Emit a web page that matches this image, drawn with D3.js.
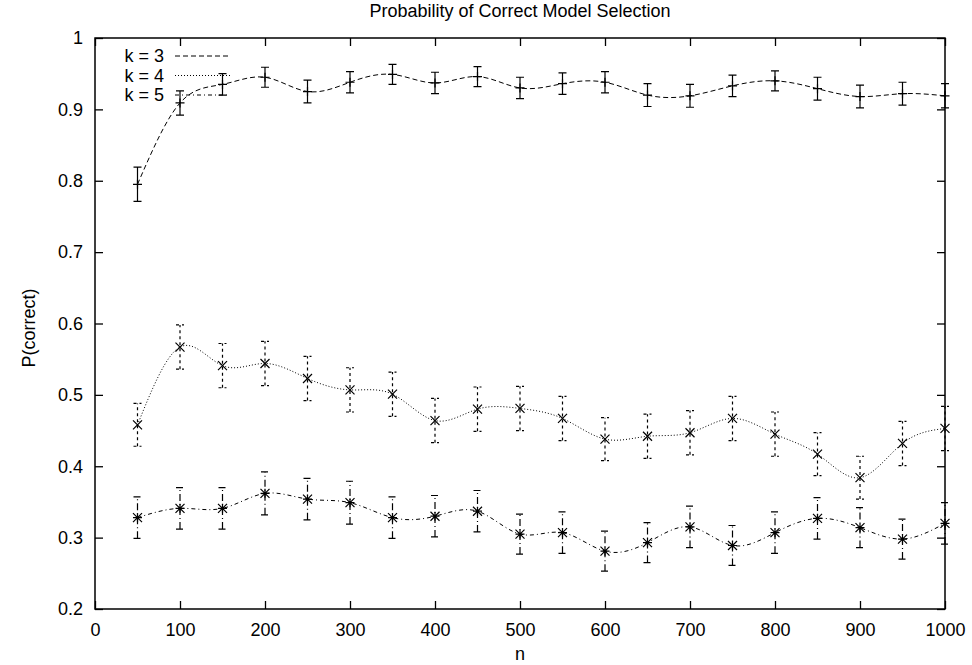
<!DOCTYPE html>
<html>
<head>
<meta charset="utf-8">
<script src="https://cdn.jsdelivr.net/npm/d3@7"></script>
<style>
  body { margin: 0; background: #fff; }
  text { font-family: "Liberation Sans", Arial, sans-serif; fill: #000; }
</style>
</head>
<body>
<div id="chart"></div>
<script>
var width = 972;
var height = 665;
var marginLeft = 95;
var marginTop = 38;
var plotW = 850;
var plotH = 571;

// data
var nValues = [50, 100, 150, 200, 250, 300, 350, 400, 450, 500, 550, 600, 650, 700, 750, 800, 850, 900, 950, 1000];
var k3 = [0.795, 0.909, 0.935, 0.945, 0.925, 0.938, 0.949, 0.937, 0.946, 0.930, 0.936, 0.938, 0.920, 0.919, 0.933, 0.940, 0.929, 0.918, 0.922, 0.919];
var k3err = [0.024, 0.017, 0.015, 0.014, 0.016, 0.015, 0.014, 0.015, 0.014, 0.015, 0.015, 0.015, 0.016, 0.016, 0.015, 0.014, 0.016, 0.016, 0.016, 0.017];
var k4 = [0.458, 0.567, 0.541, 0.544, 0.523, 0.507, 0.501, 0.464, 0.480, 0.481, 0.467, 0.438, 0.442, 0.447, 0.467, 0.445, 0.417, 0.384, 0.432, 0.453];
var k4err = [0.030, 0.031, 0.031, 0.031, 0.031, 0.031, 0.031, 0.031, 0.031, 0.031, 0.031, 0.030, 0.031, 0.031, 0.031, 0.031, 0.030, 0.030, 0.031, 0.031];
var k5 = [0.328, 0.341, 0.341, 0.362, 0.354, 0.349, 0.328, 0.330, 0.337, 0.305, 0.307, 0.281, 0.293, 0.315, 0.289, 0.307, 0.327, 0.314, 0.298, 0.320];
var k5err = [0.029, 0.029, 0.029, 0.030, 0.029, 0.030, 0.029, 0.029, 0.029, 0.028, 0.029, 0.028, 0.028, 0.029, 0.028, 0.029, 0.029, 0.028, 0.028, 0.029];
var seriesNames = ['k = 3', 'k = 4', 'k = 5'];
var xTicks = [0, 100, 200, 300, 400, 500, 600, 700, 800, 900, 1000];
var yTicks = [0.2, 0.3, 0.4, 0.5, 0.6, 0.7, 0.8, 0.9, 1];

var fs = 18;

var svg = d3.select('#chart')
    .append('svg')
    .attr('width', width)
    .attr('height', height);

var g = svg.append('g')
    .attr('transform', 'translate(' + marginLeft + ',' + marginTop + ')');

var x = d3.scaleLinear().domain([0, 1000]).range([0, plotW]);
var y = d3.scaleLinear().domain([0.2, 1]).range([plotH, 0]);

// ticks on all four sides, pointing inward
g.append('g').attr('transform', 'translate(0,' + plotH + ')')
    .call(d3.axisBottom(x).tickValues(xTicks).tickSize(-8).tickPadding(14).tickFormat(d3.format('d')));
g.append('g')
    .call(d3.axisTop(x).tickValues(xTicks).tickSize(-8).tickFormat(''));
g.append('g')
    .call(d3.axisLeft(y).tickValues(yTicks).tickSize(-8).tickPadding(12).tickFormat(function(d){ return d === 1 ? '1' : d3.format('.1f')(d); }));
g.append('g').attr('transform', 'translate(' + plotW + ',0)')
    .call(d3.axisRight(y).tickValues(yTicks).tickSize(-8).tickFormat(''));

g.selectAll('.domain').remove();
g.selectAll('.tick line').attr('stroke', '#000').attr('stroke-width', 1.3);
g.selectAll('.tick text').attr('font-size', fs).attr('font-family', '"Liberation Sans", Arial, sans-serif');

g.append('rect')
    .attr('width', plotW).attr('height', plotH)
    .attr('fill', 'none').attr('stroke', '#000').attr('stroke-width', 1.5);

// titles
svg.append('text').attr('x', 520).attr('y', 17).attr('text-anchor', 'middle')
    .attr('font-size', fs).text('Probability of Correct Model Selection');
svg.append('text').attr('x', 520).attr('y', 660).attr('text-anchor', 'middle')
    .attr('font-size', fs).text('n');
svg.append('text').attr('transform', 'translate(35,328) rotate(-90)').attr('text-anchor', 'middle')
    .attr('font-size', fs).text('P(correct)');

var series = [
    {name: seriesNames[0], vals: k3, errs: k3err, dash: '5,3', barDash: null, mark: 'plus'},
    {name: seriesNames[1], vals: k4, errs: k4err, dash: '1,2', barDash: '3,3', mark: 'cross'},
    {name: seriesNames[2], vals: k5, errs: k5err, dash: '4,3,1,3', barDash: '7,3,1,3', mark: 'star'}
];

var line = d3.line()
    .x(function(d){ return x(d[0]); })
    .y(function(d){ return y(d[1]); })
    .curve(d3.curveNatural);

var cap = 4;
var ms = 4.5;

series.forEach(function(s){
    var pts = nValues.map(function(n, i){ return [n, s.vals[i], s.errs[i]]; });

    g.append('path')
        .datum(pts)
        .attr('d', line)
        .attr('fill', 'none')
        .attr('stroke', '#000')
        .attr('stroke-width', 1)
        .attr('stroke-dasharray', s.dash);

    var bars = g.append('g')
        .attr('stroke', '#000')
        .attr('stroke-width', 1.2)
        .attr('stroke-dasharray', s.barDash);

    bars.selectAll('.eb')
        .data(pts)
        .enter()
        .append('path')
        .attr('fill', 'none')
        .attr('d', function(d){
            var cx = x(d[0]), y0 = y(d[1] - d[2]), y1 = y(d[1] + d[2]);
            return 'M' + cx + ',' + y0 + 'V' + y1 +
                   'M' + (cx - cap) + ',' + y1 + 'H' + (cx + cap) +
                   'M' + (cx - cap) + ',' + y0 + 'H' + (cx + cap);
        });

    g.selectAll('.mk-' + s.mark)
        .data(pts)
        .enter()
        .append('path')
        .attr('fill', 'none')
        .attr('stroke', '#000')
        .attr('stroke-width', 1.2)
        .attr('d', function(d){
            var cx = x(d[0]), cy = y(d[1]);
            var p = 'M' + (cx - ms) + ',' + cy + 'H' + (cx + ms) + 'M' + cx + ',' + (cy - ms) + 'V' + (cy + ms);
            var c = 'M' + (cx - ms) + ',' + (cy - ms) + 'L' + (cx + ms) + ',' + (cy + ms) +
                    'M' + (cx - ms) + ',' + (cy + ms) + 'L' + (cx + ms) + ',' + (cy - ms);
            if (s.mark === 'plus') return p;
            if (s.mark === 'cross') return c;
            return p + c;
        });
});

// legend
var legend = svg.append('g');
series.forEach(function(s, i){
    var ly = 56 + i * 19.5;
    legend.append('text')
        .attr('x', 164).attr('y', ly + 6)
        .attr('text-anchor', 'end')
        .attr('font-size', fs)
        .text(s.name);
    legend.append('line')
        .attr('x1', 175).attr('x2', 230)
        .attr('y1', ly).attr('y2', ly)
        .attr('stroke', '#000')
        .attr('stroke-width', 1)
        .attr('stroke-dasharray', s.dash);
});
</script>
</body>
</html>
